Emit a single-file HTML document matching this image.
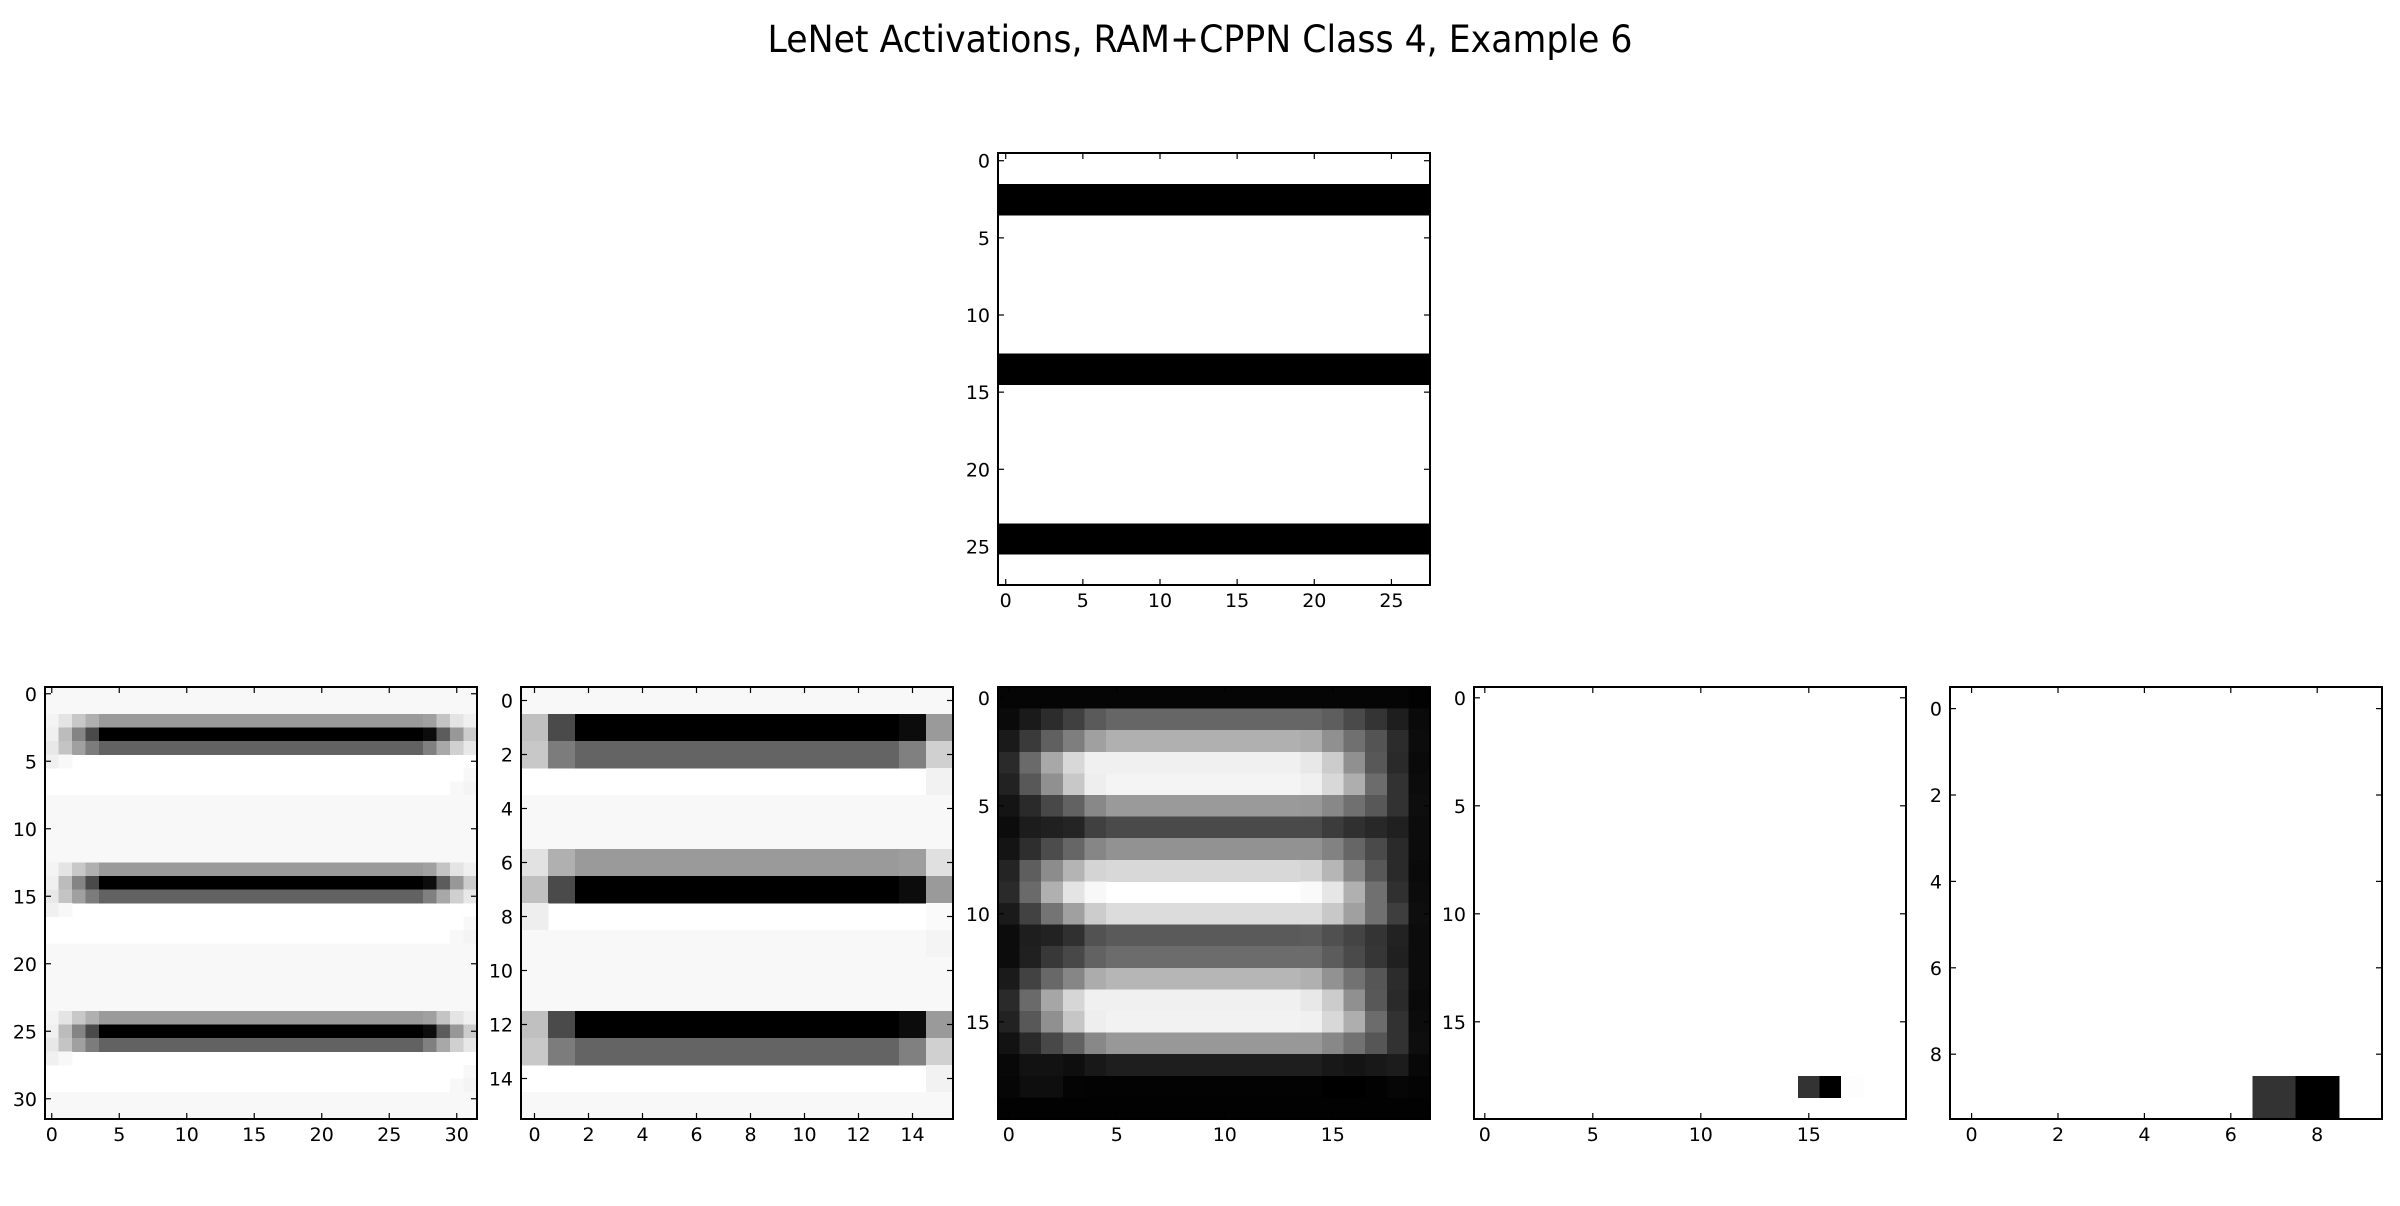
<!DOCTYPE html>
<html><head><meta charset="utf-8"><style>
html,body{margin:0;padding:0;background:#fff;}
svg{display:block;}
text{font-family:"DejaVu Sans","Liberation Sans",sans-serif;fill:#000;}
</style></head><body>
<svg id="fig" xmlns="http://www.w3.org/2000/svg" width="2400" height="1206" viewBox="0 0 2400 1206">
<rect width="2400" height="1206" fill="#fff"/>
<text x="1200" y="52" font-size="37" text-anchor="middle" textLength="865" lengthAdjust="spacingAndGlyphs">LeNet Activations, RAM+CPPN Class 4, Example 6</text>
</svg>
<script>
const W = 255, F = 0xf8;
const inputSize = 28;
const inputBlackRows = [2, 3, 13, 14, 24, 25];
const inputTicks = [0, 5, 10, 15, 20, 25];

const c1A = [0xf4,0xe4,0xc8,0xb0,0x9a,0x9a,0x9a,0x9a,0x9a,0x9a,0x9a,0x9a,0x9a,0x9a,0x9a,0x9a,0x9a,0x9a,0x9a,0x9a,0x9a,0x9a,0x9a,0x9a,0x9a,0x9a,0x9a,0x9a,0xa0,0xc4,0xe4,0xf0];
const c1B = [0xf0,0xbc,0x84,0x4a,0,0,0,0,0,0,0,0,0,0,0,0,0,0,0,0,0,0,0,0,0,0,0,0,0x0c,0x5c,0x98,0xcc];
const c1C = [0xe8,0xc4,0xa0,0x7c,0x62,0x62,0x62,0x62,0x62,0x62,0x62,0x62,0x62,0x62,0x62,0x62,0x62,0x62,0x62,0x62,0x62,0x62,0x62,0x62,0x62,0x62,0x62,0x62,0x80,0xa8,0xd0,0xe8];
const c1W1 = [0xf0,0xf8,W,W,W,W,W,W,W,W,W,W,W,W,W,W,W,W,W,W,W,W,W,W,W,W,W,W,W,W,W,W];
const c1W2 = [W,W,W,W,W,W,W,W,W,W,W,W,W,W,W,W,W,W,W,W,W,W,W,W,W,W,W,W,W,W,W,0xf8];
const c1W3 = [W,W,W,W,W,W,W,W,W,W,W,W,W,W,W,W,W,W,W,W,W,W,W,W,W,W,W,W,W,W,0xf8,0xf4];
const c1F = [F,F,F,F,F,F,F,F,F,F,F,F,F,F,F,F,F,F,F,F,F,F,F,F,F,F,F,F,F,F,F,F];
const conv1Rows = [c1F,c1F,c1A,c1B,c1C,c1W1,c1W2,c1W3,c1F,c1F,c1F,c1F,c1F,c1A,c1B,c1C,c1W1,c1W2,c1W3,c1F,c1F,c1F,c1F,c1F,c1A,c1B,c1C,c1W1,c1W2,c1W3,c1F,c1F];
const conv1Ticks = [0, 5, 10, 15, 20, 25, 30];

const p1B = [0xc0,0x4a,0,0,0,0,0,0,0,0,0,0,0,0,0x0c,0x9a];
const p1G = [0xc8,0x7c,0x64,0x64,0x64,0x64,0x64,0x64,0x64,0x64,0x64,0x64,0x64,0x64,0x80,0xd0];
const p1L = [0xe2,0xb0,0x9a,0x9a,0x9a,0x9a,0x9a,0x9a,0x9a,0x9a,0x9a,0x9a,0x9a,0x9a,0x9e,0xe0];
const p1W = [W,W,W,W,W,W,W,W,W,W,W,W,W,W,W,0xf2];
const p1W8 = [0xee,W,W,W,W,W,W,W,W,W,W,W,W,W,W,0xfa];
const p1F = [F,F,F,F,F,F,F,F,F,F,F,F,F,F,F,F];
const p1F9 = [F,F,F,F,F,F,F,F,F,F,F,F,F,F,F,0xf4];
const pool1Rows = [p1F,p1B,p1G,p1W,p1F,p1F,p1L,p1B,p1W8,p1F9,p1F,p1F,p1B,p1G,p1W,p1F];
const pool1Ticks = [0, 2, 4, 6, 8, 10, 12, 14];

const conv2Rows = [
[0x05,0x05,0x05,0x05,0x05,0x05,0x05,0x05,0x05,0x05,0x05,0x05,0x05,0x05,0x05,0x05,0x05,0x05,0x05,0x02],
[0x0a,0x1a,0x2c,0x40,0x5a,0x66,0x66,0x66,0x66,0x66,0x66,0x66,0x66,0x66,0x66,0x5e,0x4a,0x34,0x1e,0x0a],
[0x1a,0x3a,0x60,0x7e,0xa0,0xb0,0xb0,0xb0,0xb0,0xb0,0xb0,0xb0,0xb0,0xb0,0xac,0x90,0x70,0x54,0x2c,0x0c],
[0x2a,0x6a,0xa8,0xd8,0xf0,0xf0,0xf0,0xf0,0xf0,0xf0,0xf0,0xf0,0xf0,0xf0,0xe8,0xcc,0x90,0x58,0x2a,0x0a],
[0x22,0x58,0x90,0xc8,0xee,0xf4,0xf4,0xf4,0xf4,0xf4,0xf4,0xf4,0xf4,0xf4,0xf0,0xd8,0xae,0x6c,0x32,0x0c],
[0x14,0x2a,0x48,0x62,0x88,0x9a,0x9a,0x9a,0x9a,0x9a,0x9a,0x9a,0x9a,0x9a,0x98,0x88,0x70,0x58,0x32,0x0e],
[0x0c,0x1c,0x20,0x24,0x40,0x4a,0x4a,0x4a,0x4a,0x4a,0x4a,0x4a,0x4a,0x4a,0x4a,0x3c,0x30,0x28,0x20,0x0c],
[0x14,0x2e,0x4c,0x66,0x86,0x92,0x92,0x92,0x92,0x92,0x92,0x92,0x92,0x92,0x92,0x82,0x66,0x4a,0x2a,0x0c],
[0x24,0x5e,0x8c,0xb4,0xd4,0xd8,0xd8,0xd8,0xd8,0xd8,0xd8,0xd8,0xd8,0xd8,0xd4,0xb6,0x86,0x58,0x2a,0x0a],
[0x2a,0x6a,0xb0,0xe4,0xf8,0xff,0xff,0xff,0xff,0xff,0xff,0xff,0xff,0xff,0xfa,0xe6,0xb0,0x70,0x30,0x0c],
[0x1a,0x42,0x74,0xa0,0xcc,0xdc,0xdc,0xdc,0xdc,0xdc,0xdc,0xdc,0xdc,0xdc,0xdc,0xc8,0xa0,0x70,0x3e,0x0e],
[0x0c,0x1e,0x22,0x30,0x52,0x5a,0x5a,0x5a,0x5a,0x5a,0x5a,0x5a,0x5a,0x5a,0x5c,0x50,0x44,0x34,0x22,0x0c],
[0x0c,0x20,0x38,0x48,0x62,0x6c,0x6c,0x6c,0x6c,0x6c,0x6c,0x6c,0x6c,0x6c,0x6c,0x5c,0x4a,0x36,0x20,0x0c],
[0x1a,0x42,0x68,0x86,0xac,0xb6,0xb6,0xb6,0xb6,0xb6,0xb6,0xb6,0xb6,0xb6,0xb0,0x92,0x72,0x56,0x2c,0x0c],
[0x2a,0x6a,0xa6,0xd6,0xf0,0xf0,0xf0,0xf0,0xf0,0xf0,0xf0,0xf0,0xf0,0xf0,0xe8,0xcc,0x90,0x58,0x2a,0x0a],
[0x22,0x58,0x90,0xc6,0xee,0xf2,0xf2,0xf2,0xf2,0xf2,0xf2,0xf2,0xf2,0xf2,0xf0,0xd8,0xae,0x6c,0x32,0x0c],
[0x12,0x2a,0x48,0x62,0x88,0x98,0x98,0x98,0x98,0x98,0x98,0x98,0x98,0x98,0x98,0x88,0x72,0x56,0x32,0x0e],
[0x08,0x12,0x12,0x0e,0x18,0x1e,0x1e,0x1e,0x1e,0x1e,0x1e,0x1e,0x1e,0x1e,0x1e,0x18,0x14,0x18,0x1c,0x08],
[0x06,0x0e,0x0e,0x04,0x03,0x03,0x03,0x03,0x03,0x03,0x03,0x03,0x03,0x03,0x03,0x00,0x00,0x02,0x06,0x04],
[0x02,0x02,0x02,0x02,0x02,0x02,0x02,0x02,0x02,0x02,0x02,0x02,0x02,0x02,0x02,0x02,0x02,0x02,0x02,0x02]
];
const conv2Ticks = [0, 5, 10, 15];

const sparse1Size = 20;
const sparse1Cells = [[18, 15, 0x33], [18, 16, 0x00], [18, 17, 0xfd]];
const sparse1Ticks = [0, 5, 10, 15];
const sparse2Size = 10;
const sparse2Cells = [[9, 7, 0x33], [9, 8, 0x00]];
const sparse2Ticks = [0, 2, 4, 6, 8];

const NS = 'http://www.w3.org/2000/svg';
const svg = document.getElementById('fig');
const PW = 432;

function gray(v){ const h = Math.max(0,Math.min(255,Math.round(v))).toString(16).padStart(2,'0'); return '#'+h+h+h; }

function makeAxis(name, x0, y0, n, cellFn, ticks){
  const g = document.createElementNS(NS,'g');
  
  
  svg.appendChild(g);
  const s = PW / n;
  const sx = v => x0 + (v + 0.5) * s;
  const sy = v => y0 + (v + 0.5) * s;
  const img = document.createElementNS(NS,'g');
  
  
  img.setAttribute('shape-rendering','crispEdges');
  g.appendChild(img);
  for(let r=0;r<n;r++){
    for(let c=0;c<n;c++){
      const v = cellFn(r,c);
      if(v>=255) continue;
      const rc = document.createElementNS(NS,'rect');
      
      
      rc.setAttribute('x', (sx(c - 0.5)).toFixed(2));
      rc.setAttribute('y', (sy(r - 0.5)).toFixed(2));
      rc.setAttribute('width', (s+0.6).toFixed(2));
      rc.setAttribute('height', (s+0.6).toFixed(2));
      rc.setAttribute('fill', gray(v));
      img.appendChild(rc);
    }
  }
  ticks.forEach(t=>{
    const px = sx(t), py = sy(t);
    const lines = [[px,y0+PW,px,y0+PW-6],[px,y0,px,y0+6],[x0,py,x0+6,py],[x0+PW,py,x0+PW-6,py]];
    lines.forEach(L=>{
      const ln = document.createElementNS(NS,'line');
      
      
      ln.setAttribute('x1',L[0]);ln.setAttribute('y1',L[1]);ln.setAttribute('x2',L[2]);ln.setAttribute('y2',L[3]);
      ln.setAttribute('stroke','#000');ln.setAttribute('stroke-width','1.2');
      g.appendChild(ln);
    });
    const xt = document.createElementNS(NS,'text');
    
    
    xt.setAttribute('x',px);xt.setAttribute('y',y0+PW+22);
    xt.setAttribute('font-size','19');xt.setAttribute('text-anchor','middle');
    xt.textContent = t;
    g.appendChild(xt);
    const yt = document.createElementNS(NS,'text');
    
    
    yt.setAttribute('x',x0-8);yt.setAttribute('y',py+7);
    yt.setAttribute('font-size','19');yt.setAttribute('text-anchor','end');
    yt.textContent = t;
    g.appendChild(yt);
  });
  const fr = document.createElementNS(NS,'rect');
  
  
  fr.setAttribute('x',x0);fr.setAttribute('y',y0);fr.setAttribute('width',PW);fr.setAttribute('height',PW);
  fr.setAttribute('fill','none');fr.setAttribute('stroke','#000');fr.setAttribute('stroke-width','2');
  g.appendChild(fr);
}

makeAxis('input-image-panel', 998, 153, inputSize, (r,c)=> inputBlackRows.includes(r) ? 0 : 255, inputTicks);
makeAxis('conv1-panel', 45, 687, conv1Rows.length, (r,c)=> conv1Rows[r][c], conv1Ticks);
makeAxis('pool1-panel', 521, 687, pool1Rows.length, (r,c)=> pool1Rows[r][c], pool1Ticks);
makeAxis('conv2-panel', 998, 687, conv2Rows.length, (r,c)=> conv2Rows[r][c], conv2Ticks);
makeAxis('pool2-panel', 1474, 687, sparse1Size, (r,c)=>{ const f = sparse1Cells.find(e=>e[0]===r&&e[1]===c); return f ? f[2] : 255; }, sparse1Ticks);
makeAxis('fc-panel', 1950, 687, sparse2Size, (r,c)=>{ const f = sparse2Cells.find(e=>e[0]===r&&e[1]===c); return f ? f[2] : 255; }, sparse2Ticks);
</script>
</body></html>
